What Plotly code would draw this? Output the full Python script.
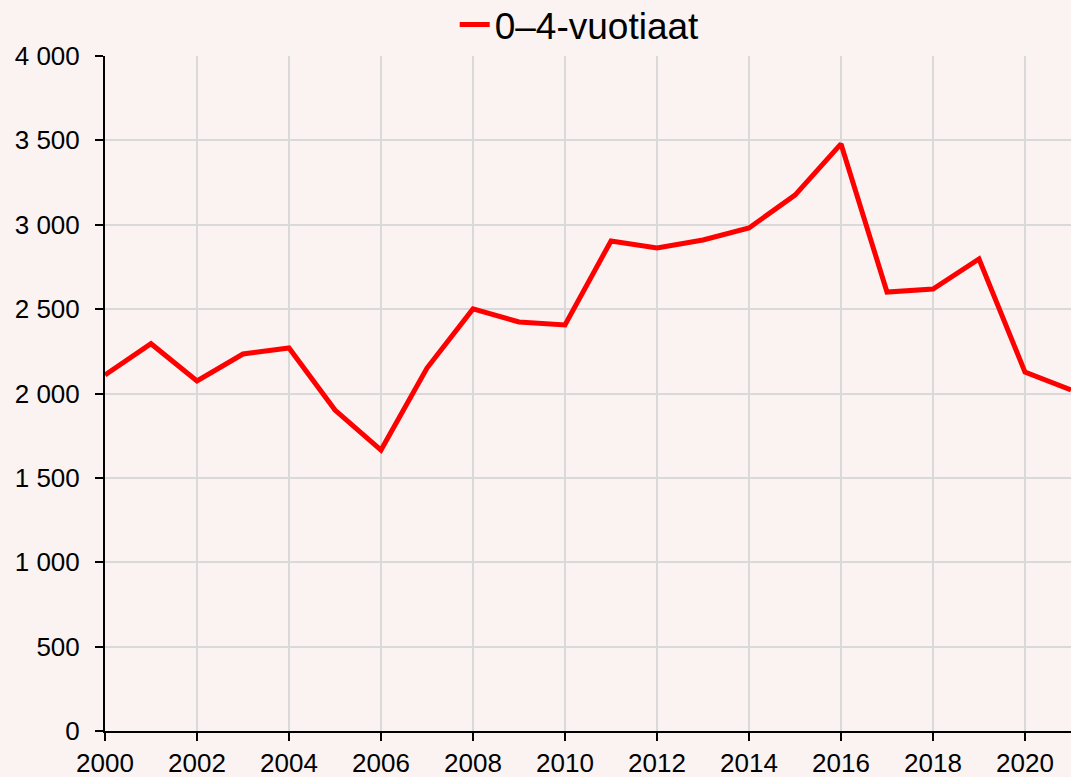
import plotly.graph_objects as go

years = list(range(2000, 2022))
values = [2110, 2295, 2074, 2234, 2270, 1902, 1665, 2151, 2501, 2424, 2406,
          2904, 2862, 2910, 2981, 3176, 3479, 2601, 2619, 2797, 2127, 2021]
series_name = "0–4-vuotiaat"

fig = go.Figure()
fig.add_trace(go.Scatter(x=years, y=values, mode="lines", name=series_name,
                         line=dict(color="#FF0000", width=5), showlegend=True))

bg = "#FAF3F2"
fig.update_layout(
    width=1071, height=777,
    paper_bgcolor=bg, plot_bgcolor=bg,
    margin=dict(l=105, r=0, t=56, b=46, autoexpand=False),
    separators=", ",
    font=dict(family="Liberation Sans, Arial", size=26, color="#000000"),
    showlegend=True,
    legend=dict(orientation="h", x=0.362, xanchor="left", y=1.046, yanchor="middle",
                font=dict(size=37), bgcolor="rgba(0,0,0,0)"),
    xaxis=dict(range=[2000, 2021], dtick=2, tick0=2000, showgrid=True,
               gridcolor="#D9D9D9", gridwidth=2, showline=True, linecolor="#000000",
               linewidth=2, ticks="outside", ticklen=8, tickwidth=2, tickcolor="#000000",
               zeroline=False, tickfont=dict(size=26), ticklabelstandoff=0),
    yaxis=dict(range=[0, 4000], dtick=500, showgrid=True, gridcolor="#D9D9D9",
               gridwidth=2, showline=True, linecolor="#000000", linewidth=2,
               ticks="outside", ticklen=8, tickwidth=2, tickcolor="#000000",
               tickformat=",d", zeroline=False, tickfont=dict(size=26),
               ticklabelstandoff=10),
)

fig.write_html("out.html", config={"displayModeBar": False},
               post_script="document.body.style.margin='0';document.body.style.overflow='hidden';")
